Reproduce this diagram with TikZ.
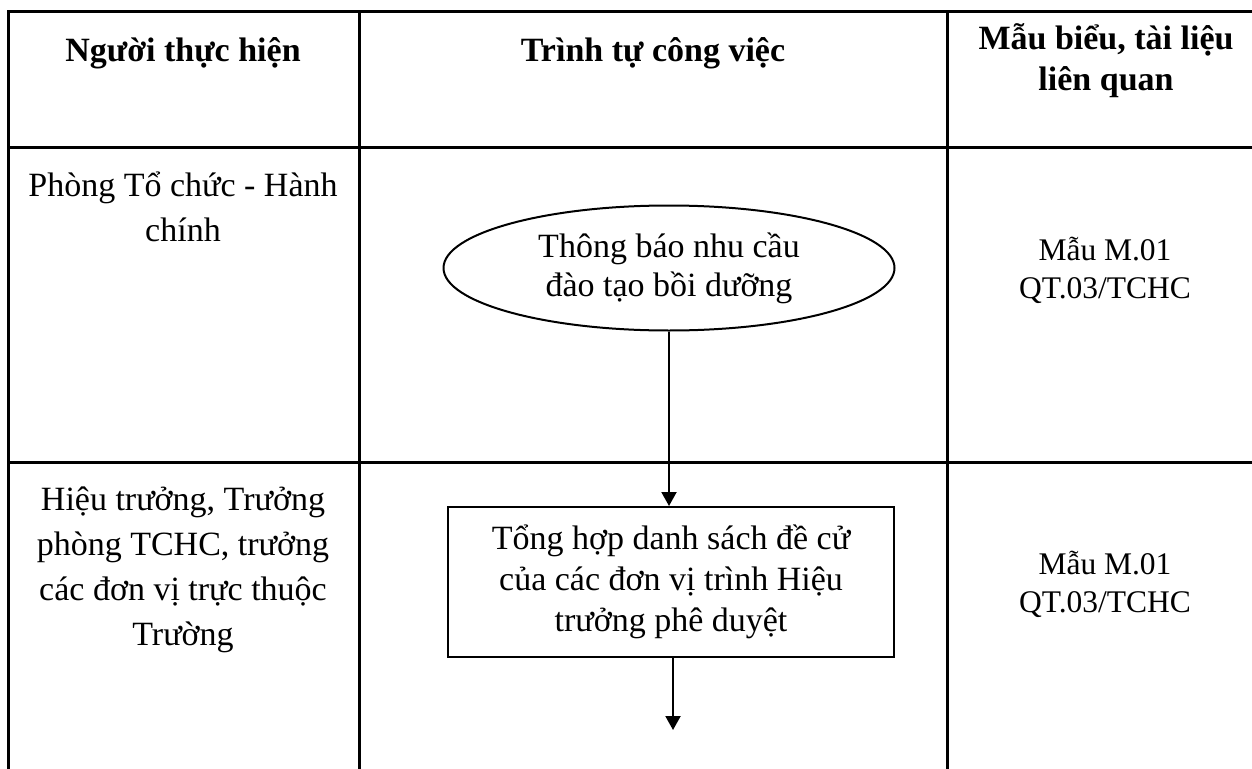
\documentclass[tikz,border=0pt]{standalone}
\usepackage{fontspec}
\setmainfont{Liberation Serif}
\usetikzlibrary{shapes.geometric,arrows.meta}
\tikzset{
  grid/.style={line width=3pt, line cap=rect},
  hdr/.style={font=\fontsize{34}{40}\selectfont\bfseries, align=center, inner sep=0pt, anchor=base},
  who/.style={font=\fontsize{34}{45}\selectfont, align=center, inner sep=0pt, anchor=base},
  doc/.style={font=\fontsize{31.5}{38}\selectfont, align=center, inner sep=0pt, anchor=base},
  stepell/.style={draw, line width=2pt, ellipse, minimum width=451pt, minimum height=125pt, inner sep=0pt,
    font=\fontsize{34}{39}\selectfont, align=center},
  stepbox/.style={draw, line width=2pt, rectangle, minimum width=446pt, minimum height=150pt, inner sep=0pt,
    font=\fontsize{34}{41}\selectfont, align=center},
  arr/.style={line width=2pt, -{Triangle[width=15pt,length=14pt]}}
}
\begin{document}
\begin{tikzpicture}[x=1pt,y=-1pt]
\useasboundingbox (0,0) rectangle (1252,768);
% table grid
\draw[grid] (8,12) -- (1252,12);
\draw[grid] (8,147) -- (1252,147);
\draw[grid] (8,462) -- (1252,462);
\draw[grid] (8,12) -- (8,768);
\draw[grid] (359,12) -- (359,768);
\draw[grid] (947,12) -- (947,768);
% header (base anchor = baseline of last line)
\node[hdr] (h1) at (183,62) {Người thực hiện};
\node[hdr] (h2) at (653,61) {Trình tự công việc};
\node[hdr] (h3) at (1106,90) {Mẫu biểu, tài liệu\\liên quan};
% row 1
\node[who] (w1) at (183,241) {Phòng Tổ chức - Hành\\chính};
\node[doc] (d1) at (1105,298) {Mẫu M.01\\QT.03/TCHC};
\node[stepell] (s1) at (669,268) {Thông báo nhu cầu\\đào tạo bồi dưỡng};
% row 2
\node[who] (w2) at (183,645) {Hiệu trưởng, Trưởng\\phòng TCHC, trưởng\\các đơn vị trực thuộc\\Trường};
\node[doc] (d2) at (1105,612) {Mẫu M.01\\QT.03/TCHC};
\node[stepbox] (s2) at (671,582) {Tổng hợp danh sách đề cử\\của các đơn vị trình Hiệu\\trưởng phê duyệt};
% connectors
\draw[arr] (s1.south) -- (s1.south |- s2.north);
\coordinate (e2) at (673,730);
\draw[arr] (s2.south -| e2) -- (e2);
\end{tikzpicture}
\end{document}
